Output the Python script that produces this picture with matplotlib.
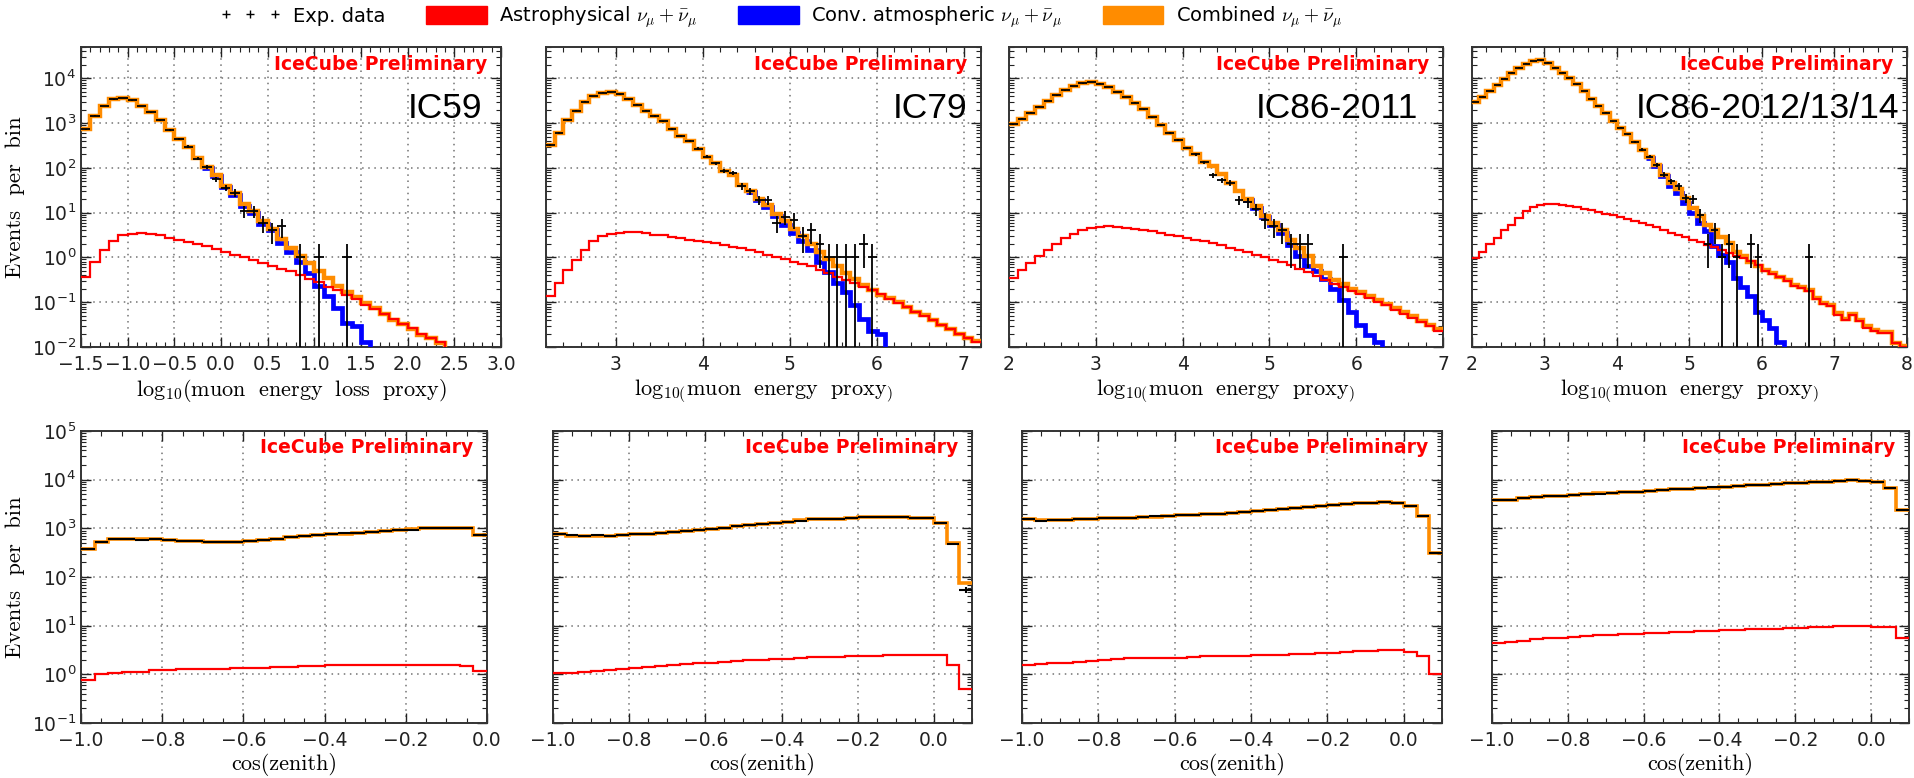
import numpy as np
import matplotlib
matplotlib.use('Agg')
import matplotlib.pyplot as plt
from matplotlib.ticker import LogLocator, NullFormatter, MultipleLocator, FuncFormatter
from matplotlib.lines import Line2D
from matplotlib.patches import Patch
from matplotlib.font_manager import FontProperties

# ---------------- data: energy proxy distributions (bin width 0.1) ----------------
# IC59 : bins start at -1.5
ic59_e_comb = [720, 1450, 2400, 3400, 3600, 3200, 2400, 1750, 1150, 700, 450, 290, 166, 106, 69, 39, 28,
               15.6, 10.7, 6.4, 4.4, 2.6, 1.65, 1.05, 0.77, 0.50, 0.34, 0.23, 0.17, 0.13, 0.095, 0.074,
               0.055, 0.040, 0.032, 0.025, 0.019, 0.0155, 0.012, 0.008]
ic59_e_astro = [0.36, 0.81, 1.5, 2.3, 3.1, 3.4, 3.5, 3.3, 3.1, 2.7, 2.5, 2.2, 1.95, 1.76, 1.55, 1.35, 1.15,
                1.02, 0.87, 0.75, 0.65, 0.56, 0.49, 0.40, 0.33, 0.28, 0.22, 0.19, 0.145, 0.117, 0.087,
                0.069, 0.055, 0.042, 0.032, 0.026, 0.020, 0.016, 0.013, 0.008]
ic59_e_conv_start = -0.2
ic59_e_conv = [100, 66, 37, 25, 14, 9.8, 5.5, 4.0, 2.1, 1.35, 0.8, 0.45, 0.23, 0.14, 0.074, 0.034, 0.03,
               0.013, 0.006]
ic59_e_data = [720, 1450, 2400, 3400, 3600, 3200, 2400, 1750, 1150, 700, 450, 300, 160, 105, 55, 36, 28,
               11, 11, 6, 4, 5, 0, 1, 0, 1, 0, 0, 1, 0, 0, 0, 0, 0, 0, 0, 0, 0, 0, 0]

# IC79 : bins start at 2.2
ic79_e_comb = [330, 600, 1150, 1900, 3000, 4000, 4800, 4950, 4400, 3400, 2600, 1900, 1440, 1100, 740, 510,
               395, 270, 178, 126, 87, 71, 42, 30, 20, 14.5, 9.5, 6.4, 4.4, 2.95, 2.0, 1.32, 0.93, 0.63,
               0.45, 0.33, 0.245, 0.19, 0.145, 0.123, 0.10, 0.079, 0.062, 0.051, 0.040, 0.031, 0.025,
               0.020, 0.016, 0.0135]
ic79_e_astro = [0.135, 0.27, 0.53, 0.89, 1.48, 2.35, 2.95, 3.4, 3.6, 3.75, 3.7, 3.5, 3.2, 3.1, 2.9, 2.7,
                2.5, 2.35, 2.2, 2.05, 1.9, 1.74, 1.6, 1.45, 1.3, 1.15, 1.02, 0.92, 0.81, 0.72, 0.63, 0.53,
                0.46, 0.37, 0.32, 0.27, 0.22, 0.185, 0.15, 0.12, 0.097, 0.08, 0.062, 0.05, 0.04, 0.031,
                0.025, 0.02, 0.0155, 0.013]
ic79_e_conv_start = 4.5
ic79_e_conv = [29, 19, 13.5, 8.3, 5.4, 3.5, 2.3, 1.45, 0.78, 0.47, 0.27, 0.165, 0.085, 0.042, 0.023, 0.020,
               0.006]
ic79_e_data = [330, 600, 1150, 1900, 3000, 4000, 4800, 4950, 4400, 3400, 2600, 1900, 1440, 1100, 740, 510,
               395, 270, 178, 126, 85, 78, 39, 30, 19, 19, 6, 8, 7, 3, 4, 2, 1, 1, 1, 1, 2, 1,
               0, 0, 0, 0, 0, 0, 0, 0, 0, 0, 0, 0]

# IC86-2011 : bins start at 2.0
ic86a_e_comb = [940, 1250, 1700, 2300, 3100, 4150, 5400, 6700, 7700, 8300, 7600, 6400, 5000, 3800, 2870,
                2030, 1360, 890, 610, 415, 280, 200, 134, 110, 72, 46, 30, 20, 14, 8.3, 5.9, 4.0, 2.5,
                1.62, 1.05, 0.63, 0.45, 0.32, 0.25, 0.20, 0.165, 0.137, 0.112, 0.091, 0.074, 0.059,
                0.048, 0.038, 0.031, 0.025]
ic86a_e_astro = [0.35, 0.53, 0.74, 1.05, 1.48, 2.03, 2.7, 3.4, 4.0, 4.55, 4.8, 4.95, 4.9, 4.6, 4.3, 4.1,
                 3.8, 3.5, 3.2, 2.95, 2.7, 2.5, 2.3, 2.1, 1.86, 1.66, 1.48, 1.31, 1.15, 1.02, 0.89, 0.79,
                 0.68, 0.56, 0.47, 0.39, 0.32, 0.26, 0.22, 0.18, 0.152, 0.125, 0.10, 0.085, 0.068, 0.055,
                 0.044, 0.036, 0.029, 0.023]
ic86a_e_conv_start = 4.7
ic86a_e_conv = [19, 13, 7.8, 5.4, 3.5, 1.9, 1.05, 0.65, 0.5, 0.33, 0.20, 0.11, 0.062, 0.031, 0.0185,
                0.013, 0.006]
ic86a_e_data = [940, 1250, 1700, 2300, 3100, 4150, 5400, 6700, 7700, 8300, 7600, 6400, 5000, 3800, 2870,
                2030, 1360, 890, 610, 415, 280, 200, 134, 68, 53, 46, 19, 17, 12, 7, 5, 4, 2, 2, 2,
                0, 0, 0, 1, 0, 0, 0, 0, 0, 0, 0, 0, 0, 0, 0]

# IC86-2012/13/14 : bins start at 2.0
ic86b_e_comb = [2950, 3900, 5200, 7100, 9800, 13400, 17400, 21400, 24000, 25000, 22400, 17400, 13400,
                10300, 7300, 5200, 3400, 2400, 1700, 1100, 790, 560, 375, 255, 176, 115, 71, 46, 34, 21,
                12.7, 8.3, 5.4, 4.0, 2.8, 2.1, 1.35, 1.05, 0.81, 0.63, 0.53, 0.45, 0.37, 0.31, 0.245,
                0.22, 0.19, 0.123, 0.095, 0.087, 0.056, 0.043, 0.054, 0.040, 0.029, 0.024, 0.022, 0.022,
                0.0125, 0.0105]
ic86b_e_astro = [0.97, 1.35, 2.03, 2.7, 4.0, 5.4, 7.6, 10.7, 13.2, 14.5, 15.6, 15.5, 15, 14.1, 13.2, 12.3,
                 11.3, 10.3, 9.5, 8.7, 7.9, 7.2, 6.6, 5.9, 5.3, 4.7, 4.2, 3.6, 3.2, 2.8, 2.5, 2.2, 1.9,
                 1.7, 1.48, 1.25, 1.09, 0.97, 0.85, 0.69, 0.50, 0.43, 0.36, 0.30, 0.235, 0.21, 0.18,
                 0.118, 0.090, 0.083, 0.053, 0.041, 0.051, 0.038, 0.027, 0.023, 0.021, 0.021, 0.012, 0.010]
ic86b_e_conv_start = 4.4
ic86b_e_conv = [170, 110, 65, 39, 27.5, 16.5, 9.8, 5.9, 3.8, 1.76, 1.15, 0.81, 0.34, 0.22, 0.135, 0.062,
                0.040, 0.026, 0.013, 0.006]
ic86b_e_data = [2950, 3900, 5200, 7100, 9800, 13400, 17400, 21400, 24000, 25000, 22400, 17400, 13400,
                10300, 7300, 5200, 3400, 2400, 1700, 1100, 790, 560, 375, 255, 176, 115, 71, 50, 39, 21,
                20, 9, 2, 4, 1, 2, 1, 0, 2, 1, 0, 0, 0, 0, 0, 0, 1, 0, 0, 0, 0, 0, 0, 0, 0, 0, 0, 0, 0, 0]

# ---------------- data: cos(zenith) distributions (bin width 1/30, from -1) ----------------
ic59_z_comb = [370, 525, 590, 590, 590, 610, 575, 555, 540, 525, 520, 515, 555, 575, 610, 650, 695, 725,
               760, 780, 810, 850, 890, 915, 950, 1000, 1030, 1030, 1000, 725]
ic59_z_data = [375, 520, 595, 590, 585, 605, 580, 550, 545, 520, 525, 520, 550, 580, 605, 655, 690, 730,
               755, 785, 805, 855, 885, 920, 945, 1005, 1025, 1035, 995, 720]
ic59_z_astro = [0.78, 1.0, 1.05, 1.1, 1.12, 1.2, 1.24, 1.26, 1.27, 1.29, 1.31, 1.33, 1.35, 1.37, 1.4,
                1.44, 1.48, 1.5, 1.52, 1.54, 1.55, 1.55, 1.56, 1.56, 1.57, 1.58, 1.58, 1.54, 1.48, 1.18]

ic79_z_comb = [780, 710, 710, 710, 690, 725, 760, 780, 810, 830, 890, 935, 980, 1030, 1110, 1180, 1240,
               1300, 1360, 1450, 1520, 1570, 1520, 1650, 1680, 1700, 1720, 1680, 1650, 1650, 1300, 490, 74]
ic79_z_data = [775, 715, 705, 715, 695, 720, 765, 775, 815, 825, 895, 930, 985, 1025, 1115, 1175, 1245,
               1295, 1365, 1445, 1525, 1565, 1525, 1645, 1685, 1695, 1725, 1675, 1655, 1645, 1305, 485, 54]
ic79_z_astro = [1.05, 1.05, 1.12, 1.18, 1.24, 1.31, 1.37, 1.44, 1.5, 1.57, 1.6, 1.67, 1.7, 1.78, 1.85,
                1.93, 2.0, 2.05, 2.1, 2.15, 2.22, 2.25, 2.3, 2.33, 2.37, 2.4, 2.45, 2.48, 2.5, 2.45, 2.45,
                1.55, 0.5]

ic86a_z_comb = [1540, 1450, 1450, 1480, 1540, 1580, 1600, 1600, 1650, 1700, 1750, 1810, 1850, 1870, 1930,
                2000, 2060, 2150, 2250, 2350, 2470, 2620, 2750, 2880, 3020, 3170, 3300, 3380, 3450, 3380,
                2880, 1810, 315]
ic86a_z_data = [1545, 1445, 1455, 1475, 1545, 1575, 1605, 1595, 1655, 1695, 1755, 1805, 1855, 1865, 1935,
                1995, 2065, 2145, 2255, 2345, 2475, 2615, 2755, 2875, 3025, 3165, 3305, 3375, 3455, 3375,
                2885, 1805, 312]
ic86a_z_astro = [1.57, 1.62, 1.67, 1.72, 1.78, 1.85, 1.93, 2.05, 2.15, 2.15, 2.15, 2.2, 2.2, 2.3, 2.35,
                 2.4, 2.42, 2.42, 2.45, 2.45, 2.53, 2.6, 2.65, 2.7, 2.75, 2.85, 3.0, 3.05, 3.15, 3.15,
                 2.9, 2.42, 1.0]

ic86b_z_comb = [3870, 3870, 4300, 4450, 4600, 4700, 4850, 5000, 5200, 5350, 5500, 5700, 5900, 6100, 6300,
                6500, 6700, 6900, 7100, 7350, 7600, 7850, 8100, 8350, 8600, 8900, 9150, 9400, 9900, 9400,
                9000, 6800, 2350]
ic86b_z_data = [3865, 3875, 4295, 4455, 4595, 4705, 4845, 5005, 5195, 5355, 5495, 5705, 5895, 6105, 6295,
                6505, 6695, 6905, 7095, 7355, 7595, 7855, 8095, 8355, 8595, 8905, 9145, 9405, 9895, 9405,
                8995, 6805, 2345]
ic86b_z_astro = [4.5, 4.7, 4.9, 5.2, 5.5, 5.7, 5.9, 6.1, 6.3, 6.4, 6.6, 6.8, 7.0, 7.1, 7.3, 7.5, 7.7, 7.9,
                 8.0, 8.1, 8.4, 8.5, 8.7, 8.8, 9.0, 9.3, 9.6, 9.9, 10.0, 10.0, 9.6, 9.3, 5.7]

panel_names = ['IC59', 'IC79', 'IC86-2011', 'IC86-2012/13/14']

# ---------------- styling ----------------
ORANGE = '#FF8C00'
BLUE = '#0000FF'
RED = '#FF0000'
W, H = 1915, 778
fig = plt.figure(figsize=(W / 100, H / 100), dpi=100)

TICK_FS = 13.5
LABEL_FS = 16


def px_axes(x0, x1, y0, y1):
    return fig.add_axes([x0 / W, 1 - y1 / H, (x1 - x0) / W, (y1 - y0) / H])


def style_axes(ax, ylim, left):
    ax.set_yscale('log')
    ax.set_ylim(*ylim)
    ax.yaxis.set_major_locator(LogLocator(base=10, numticks=20))
    ax.yaxis.set_minor_locator(LogLocator(base=10, subs=np.arange(2, 10), numticks=20))
    ax.yaxis.set_minor_formatter(NullFormatter())
    ax.tick_params(which='both', direction='in', top=True, right=True, labelsize=TICK_FS, colors='#222222')
    ax.tick_params(which='major', length=7, width=1)
    ax.tick_params(which='minor', length=3.5, width=0.8)
    ax.tick_params(axis='x', pad=6)
    if not left:
        ax.tick_params(labelleft=False)
    else:
        ax.set_ylabel('Events  per  bin', fontsize=16.4, family='cmr10', labelpad=5)
    ax.grid(True, which='major', color='0.45', linestyle=(0, (1, 3)), linewidth=1.1)
    ax.set_axisbelow(True)
    for s in ax.spines.values():
        s.set_linewidth(1.4)
        s.set_color('#333333')


def edges_for(start, width, n):
    return start + width * np.arange(n + 1)


def draw_data(ax, start, width, vals, lw):
    vals = np.asarray(vals, float)
    centers = start + width * (np.arange(len(vals)) + 0.5)
    m = vals > 0
    n = vals[m]
    up = np.sqrt(n)
    low = np.minimum(up, n * (1 - 1e-7))
    ax.errorbar(centers[m], n, xerr=width / 2, yerr=[low, up], fmt='none', ecolor='k',
                elinewidth=lw, capsize=0, zorder=6)


def minus(fmt):
    return FuncFormatter(lambda v, p: (fmt % v).replace('-', '\u2212'))


prelim_kw = dict(color=RED, fontsize=13.5, fontweight='bold', family='DejaVu Sans', ha='right', va='center')

# ---------------- top row: energy ----------------
top_specs = [
    dict(box=(81, 501), start=-1.5, xlim=(-1.5, 3.0), major=0.5, fmt='%.1f',
         comb=ic59_e_comb, astro=ic59_e_astro, conv_start=ic59_e_conv_start, conv=ic59_e_conv,
         data=ic59_e_data, xlabel=r'$\mathrm{log}_{10}(\mathrm{muon\ \ energy\ \ loss\ \ proxy})$', namex=0.955),
    dict(box=(546, 981), start=2.2, xlim=(2.2, 7.2), major=1.0, fmt='%.0f',
         comb=ic79_e_comb, astro=ic79_e_astro, conv_start=ic79_e_conv_start, conv=ic79_e_conv,
         data=ic79_e_data, xlabel=r'$\mathrm{log}_{10(}\mathrm{muon\ \ energy\ \ proxy}_{)}$', namex=0.968),
    dict(box=(1009, 1443), start=2.0, xlim=(2.0, 7.0), major=1.0, fmt='%.0f',
         comb=ic86a_e_comb, astro=ic86a_e_astro, conv_start=ic86a_e_conv_start, conv=ic86a_e_conv,
         data=ic86a_e_data, xlabel=r'$\mathrm{log}_{10(}\mathrm{muon\ \ energy\ \ proxy}_{)}$', namex=0.942),
    dict(box=(1472, 1907), start=2.0, xlim=(2.0, 8.0), major=1.0, fmt='%.0f',
         comb=ic86b_e_comb, astro=ic86b_e_astro, conv_start=ic86b_e_conv_start, conv=ic86b_e_conv,
         data=ic86b_e_data, xlabel=r'$\mathrm{log}_{10(}\mathrm{muon\ \ energy\ \ proxy}_{)}$', namex=0.982),
]

bw = 0.1
for i, sp in enumerate(top_specs):
    ax = px_axes(sp['box'][0], sp['box'][1], 47, 347)
    style_axes(ax, (1e-2, 5e4), i == 0)
    ax.set_xlim(*sp['xlim'])
    ax.xaxis.set_major_locator(MultipleLocator(sp['major']))
    ax.xaxis.set_minor_locator(MultipleLocator(sp['major'] / 5))
    ax.xaxis.set_major_formatter(minus(sp['fmt']))
    conv = np.asarray(sp['conv'], float)
    ax.stairs(conv, edges_for(sp['conv_start'], bw, len(conv)), color=BLUE, lw=3.4, baseline=None, zorder=3)
    comb = np.asarray(sp['comb'], float)
    ax.stairs(comb, edges_for(sp['start'], bw, len(comb)), color=ORANGE, lw=3.2, baseline=None, zorder=4)
    astro = np.asarray(sp['astro'], float)
    ax.stairs(astro, edges_for(sp['start'], bw, len(astro)), color=RED, lw=1.6, baseline=None, zorder=5)
    draw_data(ax, sp['start'], bw, sp['data'], 1.3)
    ax.set_xlabel(sp['xlabel'], fontsize=LABEL_FS, math_fontfamily='cm', labelpad=2)
    ax.text(0.968, 0.94, 'IceCube Preliminary', transform=ax.transAxes, **prelim_kw)
    ax.text(sp['namex'], 0.795, panel_names[i], transform=ax.transAxes, ha='right', va='center',
            fontsize=25.5, family='Liberation Sans', color='k')

# ---------------- bottom row: cos(zenith) ----------------
bot_specs = [
    dict(box=(81, 487), xlim=(-1.0, 0.0), comb=ic59_z_comb, astro=ic59_z_astro, data=ic59_z_data),
    dict(box=(553, 972), xlim=(-1.0, 0.1), comb=ic79_z_comb, astro=ic79_z_astro, data=ic79_z_data),
    dict(box=(1022, 1442), xlim=(-1.0, 0.1), comb=ic86a_z_comb, astro=ic86a_z_astro, data=ic86a_z_data),
    dict(box=(1492, 1909), xlim=(-1.0, 0.1), comb=ic86b_z_comb, astro=ic86b_z_astro, data=ic86b_z_data),
]
zw = 1.0 / 30
for i, sp in enumerate(bot_specs):
    ax = px_axes(sp['box'][0], sp['box'][1], 431, 723)
    style_axes(ax, (1e-1, 1e5), i == 0)
    ax.set_xlim(*sp['xlim'])
    ax.xaxis.set_major_locator(MultipleLocator(0.2))
    ax.xaxis.set_minor_locator(MultipleLocator(0.05))
    ax.xaxis.set_major_formatter(minus('%.1f'))
    comb = np.asarray(sp['comb'], float)
    ax.stairs(comb, edges_for(-1.0, zw, len(comb)), color=ORANGE, lw=2.6, baseline=None, zorder=4)
    astro = np.asarray(sp['astro'], float)
    ax.stairs(astro, edges_for(-1.0, zw, len(astro)), color=RED, lw=1.6, baseline=None, zorder=5)
    draw_data(ax, -1.0, zw, sp['data'], 1.5)
    ax.set_xlabel('cos(zenith)', fontsize=LABEL_FS, family='cmr10', labelpad=2)
    ax.text(0.967, 0.942, 'IceCube Preliminary', transform=ax.transAxes, **prelim_kw)

# ---------------- legend ----------------
handles = [
    Line2D([], [], marker='+', linestyle='none', color='k', markersize=6, markeredgewidth=1.0),
    Patch(facecolor=RED, edgecolor=RED),
    Patch(facecolor=BLUE, edgecolor=BLUE),
    Patch(facecolor=ORANGE, edgecolor=ORANGE),
]
labels = ['Exp. data',
          r'Astrophysical $\nu_\mu+\bar{\nu}_\mu$',
          r'Conv. atmospheric $\nu_\mu+\bar{\nu}_\mu$',
          r'Combined $\nu_\mu+\bar{\nu}_\mu$']
prop = FontProperties(family=['Liberation Sans Narrow', 'DejaVu Sans'], size=14, math_fontfamily='cm')
fig.legend(handles, labels, loc='center', bbox_to_anchor=(0.408, 0.978), ncol=4, frameon=False,
           prop=prop, numpoints=3, handlelength=3.1, handleheight=1.1, handletextpad=0.65,
           columnspacing=2.1, borderaxespad=0, borderpad=0)

fig.savefig('out.png', dpi=100)
